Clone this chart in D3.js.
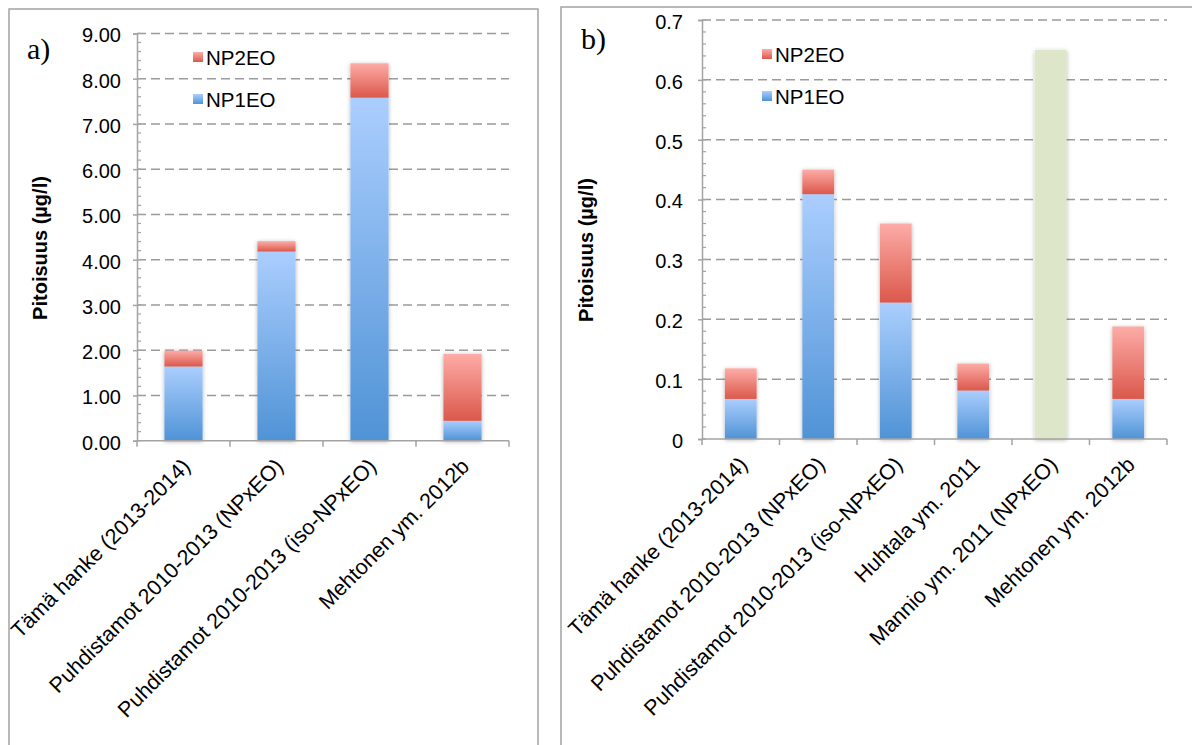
<!DOCTYPE html>
<html>
<head>
<meta charset="utf-8">
<script src="https://cdn.jsdelivr.net/npm/d3@7"></script>
<style>
  body { margin: 0; background: #fff; }
  svg { display: block; font-family: "Liberation Sans", Arial, sans-serif; }
</style>
</head>
<body>
<div id="chart"></div>
<script>
// data
var catsA = ["Tämä hanke (2013-2014)", "Puhdistamot 2010-2013 (NPxEO)", "Puhdistamot 2010-2013 (iso-NPxEO)", "Mehtonen ym. 2012b"];
var np1A = [1.64, 4.18, 7.58, 0.44];
var np2A = [0.35, 0.23, 0.76, 1.48];
var npxA = [0, 0, 0, 0];
var ticksA = [0, 1, 2, 3, 4, 5, 6, 7, 8, 9];

var catsB = ["Tämä hanke (2013-2014)", "Puhdistamot 2010-2013 (NPxEO)", "Puhdistamot 2010-2013 (iso-NPxEO)", "Huhtala ym. 2011", "Mannio ym. 2011 (NPxEO)", "Mehtonen ym. 2012b"];
var np1B = [0.067, 0.409, 0.228, 0.081, 0, 0.067];
var np2B = [0.051, 0.041, 0.132, 0.045, 0, 0.121];
var npxB = [0, 0, 0, 0, 0.65, 0];
var ticksB = [0, 0.1, 0.2, 0.3, 0.4, 0.5, 0.6, 0.7];

var legendNames = ["NP2EO", "NP1EO"];

var W = 1192, H = 745;
var svg = d3.select("#chart").append("svg")
    .attr("width", W)
    .attr("height", H);

var defs = svg.append("defs");
function grad(id, top, bottom) {
  var g = defs.append("linearGradient")
      .attr("id", id)
      .attr("x1", 0).attr("y1", 0).attr("x2", 0).attr("y2", 1);
  g.append("stop").attr("offset", "0%").attr("stop-color", top);
  g.append("stop").attr("offset", "100%").attr("stop-color", bottom);
}
grad("gBlue", "#abcefe", "#4f93d6");
grad("gRed", "#fdaca7", "#db584b");

var shadow = defs.append("filter")
    .attr("id", "shadow")
    .attr("x", "-30%").attr("y", "-10%")
    .attr("width", "160%").attr("height", "120%");
shadow.append("feDropShadow")
    .attr("dx", 0).attr("dy", 1)
    .attr("stdDeviation", 2)
    .attr("flood-color", "#000")
    .attr("flood-opacity", 0.3);

var axisColor = "#a3a3a3";

function panel(opt) {
  // frame round the panel
  svg.append("rect")
      .attr("x", opt.frame[0]).attr("y", opt.frame[1])
      .attr("width", opt.frame[2]).attr("height", opt.frame[3])
      .attr("fill", "none")
      .attr("stroke", axisColor)
      .attr("stroke-width", 1.5);

  var x = d3.scaleBand()
      .domain(opt.cats)
      .range([opt.left, opt.right])
      .paddingInner(0.59)
      .paddingOuter(0.295);

  var y = d3.scaleLinear()
      .domain([0, opt.max])
      .range([opt.bottom, opt.top]);

  var g = svg.append("g");

  // dashed gridlines
  g.selectAll(".grid")
    .data(opt.ticks.slice(1))
    .enter().append("line")
      .attr("x1", opt.left).attr("x2", opt.right)
      .attr("y1", function(d) { return y(d); })
      .attr("y2", function(d) { return y(d); })
      .attr("stroke", "#9b9b9b")
      .attr("stroke-width", 1.5)
      .attr("stroke-dasharray", "9,5");

  // minor ticks, inside the plot
  var minor = d3.range(0, opt.max + 1e-9, opt.minor);
  g.selectAll(".minor")
    .data(minor)
    .enter().append("line")
      .attr("x1", opt.left).attr("x2", opt.left + 4)
      .attr("y1", function(d) { return y(d); })
      .attr("y2", function(d) { return y(d); })
      .attr("stroke", axisColor)
      .attr("stroke-width", 1.2);

  // y axis
  var yAxis = g.append("g")
      .attr("transform", "translate(" + opt.left + ",0)")
      .call(d3.axisLeft(y).tickValues(opt.ticks).tickFormat(opt.fmt).tickSize(4).tickPadding(opt.pad));
  yAxis.select(".domain").attr("stroke", axisColor).attr("stroke-width", 1.5);
  yAxis.selectAll(".tick line").attr("stroke", axisColor).attr("stroke-width", 1.5);
  yAxis.selectAll(".tick text")
      .attr("font-size", 20)
      .attr("fill", "#000")
      .attr("font-family", "'Liberation Sans', Arial, sans-serif")
      .attr("dy", "0.42em");

  // bars: blue NP1EO, red NP2EO on top, green NPxEO total
  var step = x.step();
  var bars = g.selectAll(".bar")
    .data(opt.cats)
    .enter().append("g")
      .attr("filter", "url(#shadow)");

  bars.each(function(c, i) {
    var b = d3.select(this);
    if (opt.np1[i] > 0) {
      b.append("rect")
          .attr("x", x(c)).attr("width", x.bandwidth())
          .attr("y", y(opt.np1[i]))
          .attr("height", y(0) - y(opt.np1[i]))
          .attr("fill", "url(#gBlue)");
    }
    if (opt.np2[i] > 0) {
      b.append("rect")
          .attr("x", x(c)).attr("width", x.bandwidth())
          .attr("y", y(opt.np1[i] + opt.np2[i]))
          .attr("height", y(opt.np1[i]) - y(opt.np1[i] + opt.np2[i]))
          .attr("fill", "url(#gRed)");
    }
    if (opt.npx[i] > 0) {
      b.append("rect")
          .attr("x", x(c)).attr("width", x.bandwidth())
          .attr("y", y(opt.npx[i]))
          .attr("height", y(0) - y(opt.npx[i]))
          .attr("fill", "#dde6c8");
    }
  });

  // x axis with ticks between categories
  g.append("line")
      .attr("x1", opt.left).attr("x2", opt.right)
      .attr("y1", y(0)).attr("y2", y(0))
      .attr("stroke", axisColor)
      .attr("stroke-width", 1.5);
  g.selectAll(".xtick")
    .data(d3.range(opt.cats.length + 1))
    .enter().append("line")
      .attr("x1", function(d) { return opt.left + d * step; })
      .attr("x2", function(d) { return opt.left + d * step; })
      .attr("y1", y(0)).attr("y2", y(0) + 6)
      .attr("stroke", axisColor)
      .attr("stroke-width", 1.5);

  g.selectAll(".xlabel")
    .data(opt.cats)
    .enter().append("text")
      .attr("transform", function(d) {
        return "translate(" + (x(d) + x.bandwidth() / 2 + 8) + "," + (y(0) + 27) + ") rotate(-45)";
      })
      .attr("text-anchor", "end")
      .attr("font-size", 21.5)
      .text(function(d) { return d; });

  // y title
  g.append("text")
      .attr("transform", "translate(" + opt.titleX + "," + opt.titleY + ") rotate(-90)")
      .attr("text-anchor", "middle")
      .attr("font-size", 20)
      .attr("font-weight", "bold")
      .text("Pitoisuus (µg/l)");

  // panel letter
  g.append("text")
      .attr("x", opt.letter[0]).attr("y", opt.letter[1])
      .attr("font-family", "'Liberation Serif', 'DejaVu Serif', serif")
      .attr("font-size", 30)
      .text(opt.name);

  // legend
  var leg = g.selectAll(".leg")
    .data(legendNames)
    .enter().append("g")
      .attr("transform", function(d, i) {
        return "translate(" + opt.legend[0] + "," + (opt.legend[1] + i * 42) + ")";
      });
  leg.append("rect")
      .attr("x", 0).attr("y", -13)
      .attr("width", 10).attr("height", 10)
      .attr("fill", function(d) { return d === "NP2EO" ? "url(#gRed)" : "url(#gBlue)"; });
  leg.append("text")
      .attr("x", 13).attr("y", 0)
      .attr("font-size", 20.5)
      .text(function(d) { return d; });
}

panel({
  name: "a)", cats: catsA, np1: np1A, np2: np2A, npx: npxA,
  ticks: ticksA, max: 9, minor: 0.2, fmt: d3.format(".2f"),
  left: 137, right: 509, top: 33.4, bottom: 440.7, pad: 12,
  frame: [9, 9, 529, 760],
  titleX: 47, titleY: 248,
  letter: [27, 59],
  legend: [193, 65]
});

panel({
  name: "b)", cats: catsB, np1: np1B, np2: np2B, npx: npxB,
  ticks: ticksB, max: 0.7, minor: 0.02, fmt: function(d) { return d === 0 ? "0" : d3.format(".1f")(d); },
  left: 702, right: 1167, top: 20, bottom: 439, pad: 15,
  frame: [561, 7, 660, 760],
  titleX: 593, titleY: 250,
  letter: [581, 49],
  legend: [762, 62]
});
</script>
</body>
</html>
